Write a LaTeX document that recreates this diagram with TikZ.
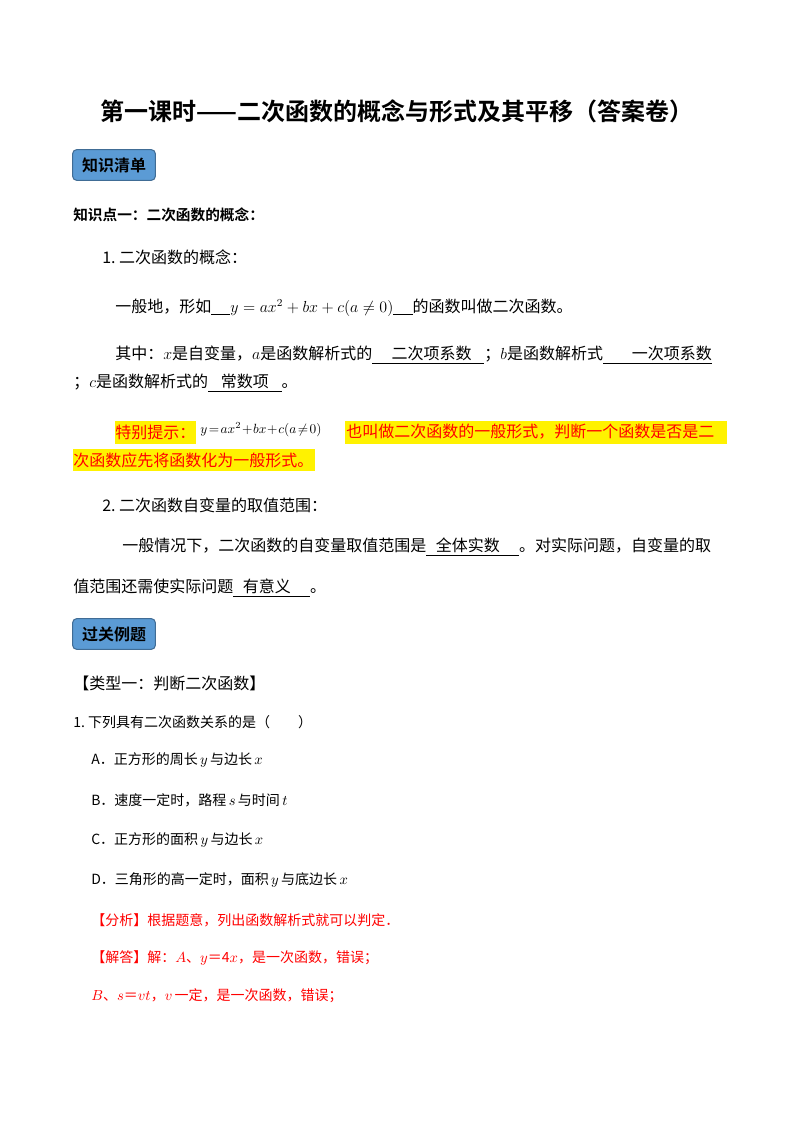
\documentclass[tikz,border=0pt]{standalone}
\usepackage{fontspec}
\setmainfont{Liberation Serif}
\newfontfamily\cjk{Noto Sans CJK SC}
\newfontfamily\cjkb{Noto Sans CJK SC Bold}
\definecolor{badgeblue}{HTML}{5B9BD5}
\begin{document}
\begin{tikzpicture}[x=0.75pt,y=-0.75pt,
  txt/.style={anchor=west,inner sep=0pt,font=\cjk\fontsize{12}{14}\selectfont},
  red/.style={txt,text=red},
  sm/.style={font=\cjk\fontsize{10.5}{12}\selectfont},
  badge/.style={draw=badgeblue!70!black,fill=badgeblue,rounded corners=3pt,minimum width=62pt,minimum height=23pt,font=\cjkb\fontsize{12}{14}\selectfont,inner sep=2pt,line width=0.8pt},
  hl/.style={fill=yellow,draw=none}]
\useasboundingbox (0,0) rectangle (800,1132);
\fill[white] (0,0) rectangle (800,1132);
\node[font=\cjkb\fontsize{18}{21}\selectfont,inner sep=0pt] (title) at (397,111) {第一课时——二次函数的概念与形式及其平移（答案卷）};
\node[badge] (b1) at (114,165) {知识清单};
\node[txt,font=\cjkb\fontsize{11}{13}\selectfont] (k1) at (73,215) {知识点一：二次函数的概念：};
\node[txt] (l1) at (102,257) {1.\ 二次函数的概念：};
\node[txt] (l2) at (115,308) {一般地，形如\underline{\hspace{1.2em}}$y=ax^2+bx+c(a\neq0)$\underline{\hspace{1.2em}}的函数叫做二次函数。};
\node[txt] (l3) at (115,355) {其中：$x$是自变量，$a$是函数解析式的\underline{\hspace{1.2em}二次项系数\hspace{0.8em}}；$b$是函数解析式\underline{\hspace{1.8em}一次项系数}};
\node[txt] (l4) at (73,383) {；$c$是函数解析式的\underline{\hspace{0.8em}常数项\hspace{0.8em}}。};
\fill[hl] (115,421) rectangle (196,444);
\fill[hl] (345,421) rectangle (727,444);
\fill[hl] (73,449) rectangle (315,471);
\node[red] (t1) at (115,432) {特别提示：};
\node[txt,font=\fontsize{10}{12}\selectfont] (f1) at (200,430) {$y\!=\!ax^2\!+\!bx\!+\!c(a\!\neq\!0)$};
\node[red] (t2) at (346,432) {也叫做二次函数的一般形式，判断一个函数是否是二};
\node[red] (t3) at (73,460) {次函数应先将函数化为一般形式。};
\node[txt] (l5) at (102,505) {2.\ 二次函数自变量的取值范围：};
\node[txt] (l6) at (122,547) {一般情况下，二次函数的自变量取值范围是\underline{\hspace{0.6em}全体实数\hspace{1.2em}}。对实际问题，自变量的取};
\node[txt] (l7) at (73,588) {值范围还需使实际问题\underline{\hspace{0.6em}有意义\hspace{1.2em}}。};
\node[badge] (b2) at (114,634) {过关例题};
\node[txt] (c1) at (73,683) {【类型一：判断二次函数】};
\node[txt,sm] (q1) at (73,722) {1.\ 下列具有二次函数关系的是（\hspace{2em}）};
\node[txt,sm] (qa) at (91,760) {A．正方形的周长\,$y$\,与边长\,$x$};
\node[txt,sm] (qb) at (91,800) {B．速度一定时，路程\,$s$\,与时间\,$t$};
\node[txt,sm] (qc) at (91,840) {C．正方形的面积\,$y$\,与边长\,$x$};
\node[txt,sm] (qd) at (91,880) {D．三角形的高一定时，面积\,$y$\,与底边长\,$x$};
\node[red,sm] (an) at (91,920) {【分析】根据题意，列出函数解析式就可以判定．};
\node[red,sm] (as) at (91,958) {【解答】解：$A$、$y$＝4$x$，是一次函数，错误；};
\node[red,sm] (as2) at (91,996) {$B$、$s$＝$vt$，$v$\,一定，是一次函数，错误；};
\end{tikzpicture}
\end{document}
